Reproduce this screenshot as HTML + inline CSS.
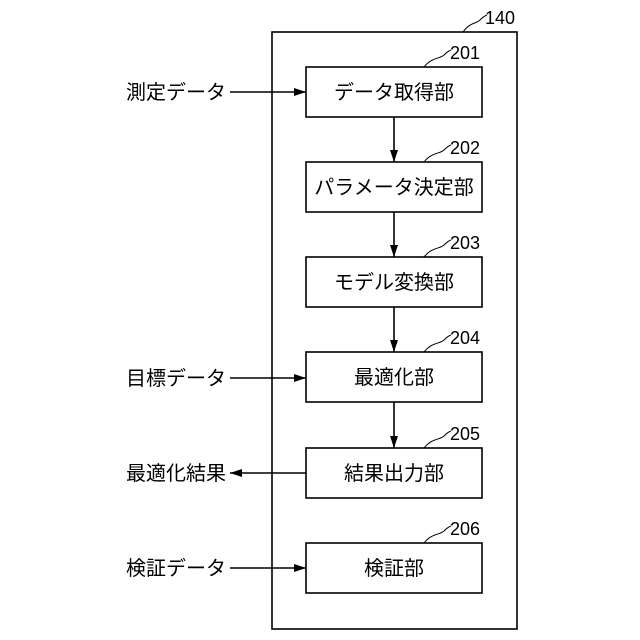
<!DOCTYPE html>
<html><head><meta charset="utf-8"><style>
html,body{margin:0;padding:0;background:#fff}
svg{display:block}
text{font-family:"Liberation Sans","Noto Sans CJK JP",sans-serif;fill:#000}
</style></head><body>
<svg width="640" height="640" viewBox="0 0 640 640">
<defs><marker id="a" markerWidth="12" markerHeight="8" refX="12" refY="4" orient="auto" markerUnits="userSpaceOnUse"><path d="M0,0 L12,4 L0,8 z" fill="#000"/></marker></defs>
<g stroke="#000" stroke-width="1.6" fill="none">
<rect x="272" y="32" width="245" height="597"/>
<rect x="306" y="67" width="176" height="50"/>
<rect x="306" y="162" width="176" height="50"/>
<rect x="306" y="257" width="176" height="50"/>
<rect x="306" y="352" width="176" height="50"/>
<rect x="306" y="448" width="176" height="50"/>
<rect x="306" y="543" width="176" height="50"/>
<line x1="394" y1="117" x2="394" y2="162" marker-end="url(#a)"/>
<line x1="394" y1="212" x2="394" y2="257" marker-end="url(#a)"/>
<line x1="394" y1="307" x2="394" y2="352" marker-end="url(#a)"/>
<line x1="394" y1="402" x2="394" y2="448" marker-end="url(#a)"/>
<line x1="230" y1="92" x2="306" y2="92" marker-end="url(#a)"/>
<line x1="230" y1="378" x2="306" y2="378" marker-end="url(#a)"/>
<line x1="306" y1="473" x2="230" y2="473" marker-end="url(#a)"/>
<line x1="230" y1="568" x2="306" y2="568" marker-end="url(#a)"/>
<g stroke-width="1">
<path d="M463,32 C470,22 476,24 480,20 C482,18 484,16 487,15"/>
<path d="M424,67 C432,57 440,59 444,55 C446,53 448,51 451,50"/>
<path d="M424,162 C432,152 440,154 444,150 C446,148 448,146 451,145"/>
<path d="M424,257 C432,247 440,249 444,245 C446,243 448,241 451,240"/>
<path d="M424,352 C432,342 440,344 444,340 C446,338 448,336 451,335"/>
<path d="M424,448 C432,438 440,440 444,436 C446,434 448,432 451,431"/>
<path d="M424,543 C432,533 440,535 444,531 C446,529 448,527 451,526"/>
</g>
</g>
<g font-size="18">
<text x="485" y="24">140</text>
<text x="450" y="59">201</text>
<text x="450" y="154">202</text>
<text x="450" y="249">203</text>
<text x="450" y="344">204</text>
<text x="450" y="440">205</text>
<text x="450" y="535">206</text>
</g>
<g font-size="20" text-anchor="middle">
<text x="394" y="99">データ取得部</text>
<text x="394" y="194">パラメータ決定部</text>
<text x="394" y="289">モデル変換部</text>
<text x="394" y="384">最適化部</text>
<text x="394" y="480">結果出力部</text>
<text x="394" y="575">検証部</text>
</g>
<g font-size="20" text-anchor="end">
<text x="226" y="99">測定データ</text>
<text x="226" y="385">目標データ</text>
<text x="226" y="480">最適化結果</text>
<text x="226" y="575">検証データ</text>
</g>
</svg>
</body></html>
